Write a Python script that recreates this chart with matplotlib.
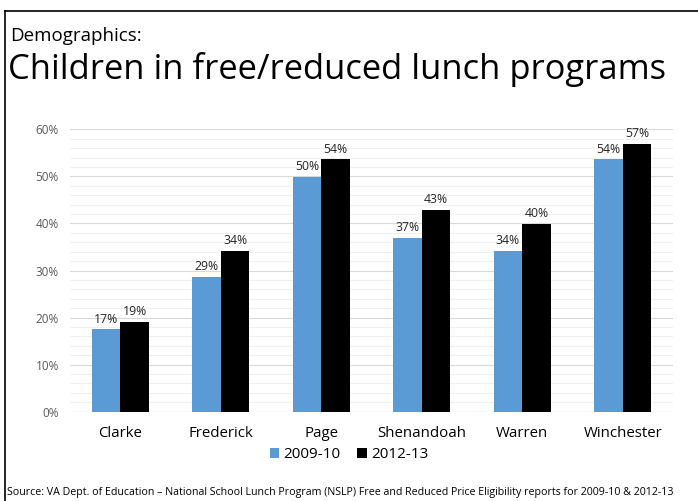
import numpy as np
import matplotlib
matplotlib.use("Agg")
import matplotlib.pyplot as plt
from matplotlib.lines import Line2D
from matplotlib.ticker import MultipleLocator, PercentFormatter

plt.rcParams['font.family'] = ['Open Sans', 'DejaVu Sans']

# ---- DATA ----
counties = ["Clarke", "Frederick", "Page", "Shenandoah", "Warren", "Winchester"]
series_names = ["2009-10", "2012-13"]
pct_2009 = [17.5, 28.6, 49.9, 37.0, 34.1, 53.6]
pct_2012 = [19.1, 34.1, 53.6, 42.8, 39.9, 56.9]
label_2009 = ["17%", "29%", "50%", "37%", "34%", "54%"]
label_2012 = ["19%", "34%", "54%", "43%", "40%", "57%"]

blue = "#5b9bd5"
black = "#000000"

fig = plt.figure(figsize=(6.98, 5.01), dpi=100)
ax = fig.add_axes([70/698, 1 - 411.7/501, 603/698, (411.7 - 129.3)/501])

x = np.arange(len(counties))
w = 0.284
b1 = ax.bar(x - w/2, pct_2009, w, color=blue, label=series_names[0], zorder=3)
b2 = ax.bar(x + w/2, pct_2012, w, color=black, label=series_names[1], zorder=3)

# value labels
for bars, labels in [(b1, label_2009), (b2, label_2012)]:
    for bar, lab in zip(bars, labels):
        ax.text(bar.get_x() + bar.get_width()/2, bar.get_height() + 0.8, lab,
                ha='center', va='bottom', fontsize=8.8, color="#262626")

ax.set_xlim(-0.5, len(counties) - 0.5)
ax.set_ylim(0, 60)
ax.yaxis.set_major_locator(MultipleLocator(10))
ax.yaxis.set_minor_locator(MultipleLocator(2))
ax.yaxis.set_major_formatter(PercentFormatter(decimals=0))
ax.grid(axis='y', which='major', color="#d9d9d9", linewidth=0.8, zorder=0)
ax.grid(axis='y', which='minor', color="#f0f0f0", linewidth=0.8, zorder=0)
for s in ax.spines.values():
    s.set_visible(False)
ax.axhline(0, color="#d9d9d9", linewidth=0.8, zorder=2)
ax.tick_params(axis='both', which='both', length=0)
ax.tick_params(axis='y', labelsize=8.5, labelcolor="#595959", pad=8)
ax.set_xticks(x)
ax.set_xticklabels(counties, fontsize=10.8, color="#000000")
ax.tick_params(axis='x', pad=10)

ax.legend(loc='center', bbox_to_anchor=(0.5, 1 - 455/501), bbox_transform=fig.transFigure,
          ncol=2, frameon=False, fontsize=11, handlelength=0.6, handleheight=0.6,
          handletextpad=0.3, columnspacing=1.1)

# titles
fig.text(10/698, 1 - 41/501, "Demographics:", fontsize=13.5, ha='left', va='baseline')
fig.text(8/698, 1 - 79/501, "Children in free/reduced lunch programs", fontsize=24.8,
         ha='left', va='baseline')

# source
fig.text(7/698, 1 - 495/501,
         "Source: VA Dept. of Education \u2013 National School Lunch Program (NSLP) Free and Reduced Price Eligibility reports for 2009-10 & 2012-13",
         fontsize=7.65, ha='left', va='baseline')

# slide border
fig.add_artist(Line2D([4.5/698, 4.5/698], [0, 1 - 11/501], color='black', linewidth=1.2,
                      transform=fig.transFigure))
fig.add_artist(Line2D([4.5/698, 1], [1 - 11/501, 1 - 11/501], color='black', linewidth=1.2,
                      transform=fig.transFigure))

fig.savefig("out.png", dpi=100)
